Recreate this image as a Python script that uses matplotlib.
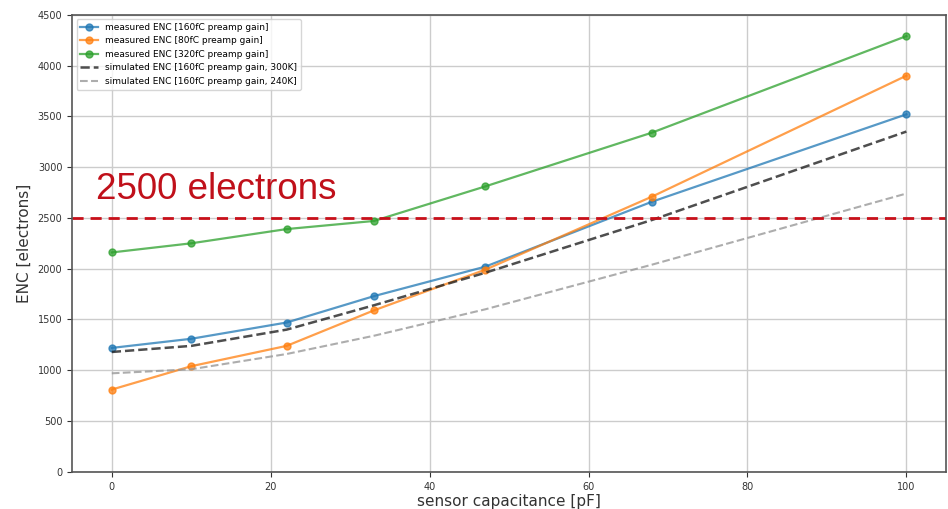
import matplotlib
matplotlib.use("Agg")
import matplotlib.pyplot as plt

cap = [0, 10, 22, 33, 47, 68, 100]
enc_160 = [1220, 1310, 1470, 1730, 2020, 2660, 3520]
enc_80 = [810, 1040, 1240, 1590, 1990, 2710, 3900]
enc_320 = [2160, 2250, 2390, 2470, 2810, 3340, 4290]
sim_300 = [1180, 1240, 1400, 1640, 1960, 2480, 3350]
sim_240 = [970, 1010, 1160, 1340, 1600, 2040, 2740]
threshold = 2500
yticks = [0, 500, 1000, 1500, 2000, 2500, 3000, 3500, 4000, 4500]
xticks = [0, 20, 40, 60, 80, 100]

fig = plt.figure(figsize=(9.48, 5.09), dpi=100)
ax = fig.add_axes([0.076, 0.073, 0.922, 0.898])

ax.plot(cap, enc_160, 'o-', color='#1f77b4', lw=1.6, ms=5, alpha=0.75, label='measured ENC [160fC preamp gain]')
ax.plot(cap, enc_80, 'o-', color='#ff7f0e', lw=1.6, ms=5, alpha=0.75, label='measured ENC [80fC preamp gain]')
ax.plot(cap, enc_320, 'o-', color='#2ca02c', lw=1.6, ms=5, alpha=0.75, label='measured ENC [320fC preamp gain]')
ax.plot(cap, sim_300, '--', color='#222222', lw=1.8, alpha=0.8, label='simulated ENC [160fC preamp gain, 300K]')
ax.plot(cap, sim_240, '--', color='#999999', lw=1.5, alpha=0.8, label='simulated ENC [160fC preamp gain, 240K]')

ax.axhline(threshold, color='#c8101a', lw=2, ls=(0, (4, 2.5)))
ax.text(-1.95, 2690, '2500 electrons', color='#c0101a', fontsize=26.5, va='baseline', ha='left',
        family='Liberation Sans')

ax.set_xlim(-5, 105)
ax.set_ylim(0, 4500)
ax.set_xticks(xticks)
ax.set_yticks(yticks)
ax.tick_params(labelsize=7, colors='#333333')
ax.grid(True, color='#cccccc', lw=1)
for s in ax.spines.values():
    s.set_color('#555555')
    s.set_linewidth(1.2)
ax.set_xlabel('sensor capacitance [pF]', fontsize=11, color='#333333', labelpad=2)
ax.set_ylabel('ENC [electrons]', fontsize=11, color='#333333')
ax.legend(loc='upper left', fontsize=6.5, framealpha=0.8)

fig.savefig('out.png', dpi=100)
